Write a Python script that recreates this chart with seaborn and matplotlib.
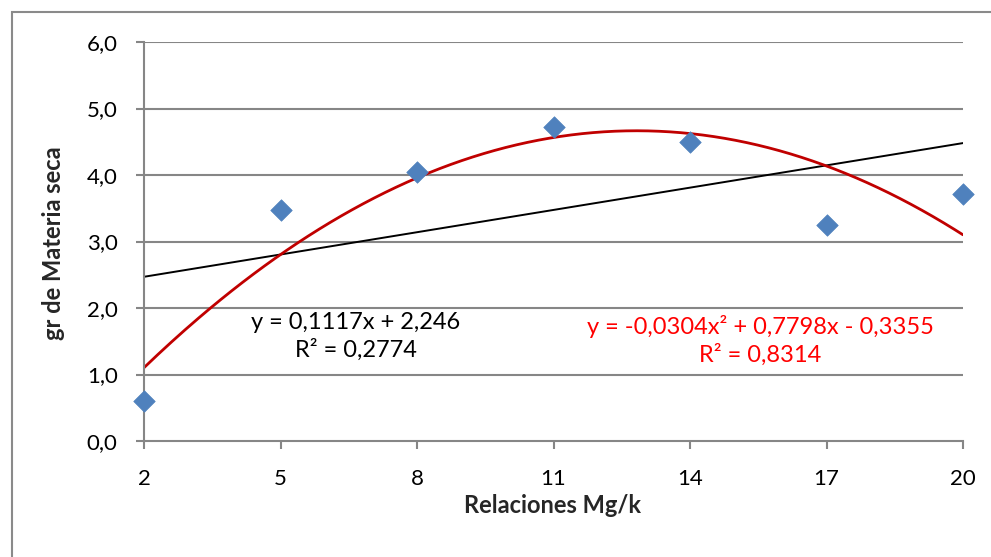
import numpy as np
import pandas as pd
import matplotlib
matplotlib.use("Agg")
import matplotlib.pyplot as plt
from matplotlib.patches import Rectangle
import seaborn as sns

# Dry-matter yield per Mg/K ratio
relaciones = [2, 5, 8, 11, 14, 17, 20]
materia_seca = [0.60, 3.47, 4.05, 4.72, 4.50, 3.25, 3.72]

# Trendline coefficients as reported
lin_coef = [0.1117, 2.246]            # slope, intercept
lin_r2 = 0.2774
poly_coef = [-0.0304, 0.7798, -0.3355]  # a, b, c
poly_r2 = 0.8314

y_ticks = [0, 1, 2, 3, 4, 5, 6]

sns.set_style("white")
plt.rcParams["font.family"] = ["Lato", "DejaVu Sans"]

fig = plt.figure(figsize=(9.91, 5.57), dpi=100)
ax = fig.add_axes([144 / 991, 1 - 441 / 557, (963 - 144) / 991, (441 - 42) / 557])

grid_col = "#868686"

xs = np.linspace(min(relaciones), max(relaciones), 300)
trend = pd.DataFrame({
    "x": xs,
    "lin": np.polyval(lin_coef, xs),
    "poly": np.polyval(poly_coef, xs),
})
df = pd.DataFrame({"x": relaciones, "y": materia_seca})

for yt in y_ticks[1:]:
    ax.axhline(yt, color=grid_col, lw=1.5, zorder=0)

sns.lineplot(data=trend, x="x", y="lin", ax=ax, color="black", lw=1.4, zorder=2)
sns.lineplot(data=trend, x="x", y="poly", ax=ax, color="#C00000", lw=2.0, zorder=2)
sns.scatterplot(data=df, x="x", y="y", ax=ax, marker="D", s=120,
                color="#4F81BD", edgecolor="#4F81BD", linewidth=0.5, zorder=3,
                clip_on=False)

ax.set_xlim(2, 20)
ax.set_ylim(0, 6)
ax.set_xticks(relaciones)
ax.set_xticklabels([str(v) for v in relaciones])
ax.set_yticks(y_ticks)
ax.set_yticklabels([f"{v:.1f}".replace(".", ",") for v in y_ticks])

for side in ["top", "right"]:
    ax.spines[side].set_visible(False)
for side in ["left", "bottom"]:
    ax.spines[side].set_color(grid_col)
    ax.spines[side].set_linewidth(1.5)

ax.tick_params(axis="both", which="major", direction="out", length=6,
               width=1.5, color=grid_col, labelsize=16, labelcolor="black")
ax.tick_params(axis="y", pad=13)
ax.tick_params(axis="x", pad=14)
ax.xaxis.set_ticks_position("bottom")
ax.yaxis.set_ticks_position("left")

ax.set_xlabel("Relaciones Mg/k", fontsize=17, fontweight="bold")
ax.set_ylabel("gr de Materia seca", fontsize=17, fontweight="bold")
ax.xaxis.set_label_coords((553 - 144) / 819, -(494 - 441) / 399)
ax.yaxis.set_label_coords(-(144 - 65) / 819, (441 - 243) / 399)

def fmt(v, nd):
    return f"{v:.{nd}f}".replace(".", ",")

lin_txt = f"y = {fmt(lin_coef[0], 4)}x + {fmt(lin_coef[1], 3)}\nR² = {fmt(lin_r2, 4)}"
poly_txt = (f"y = {fmt(poly_coef[0], 4)}x² + {fmt(poly_coef[1], 4)}x - "
            f"{fmt(abs(poly_coef[2]), 4)}\nR² = {fmt(poly_r2, 4)}")

ax.text(6.66, 1.57, lin_txt, ha="center", va="center", fontsize=17,
        color="black", linespacing=1.3)
ax.text(15.54, 1.51, poly_txt, ha="center", va="center", fontsize=17,
        color="#FF0000", linespacing=1.3)

# chart frame
fig.patches.append(Rectangle((12 / 991, -0.2), 1.2, 1.2 - 12 / 557,
                             transform=fig.transFigure, fill=False,
                             edgecolor="#8A8A8A", lw=1.5))

fig.savefig("out.png", dpi=100, facecolor="white")
